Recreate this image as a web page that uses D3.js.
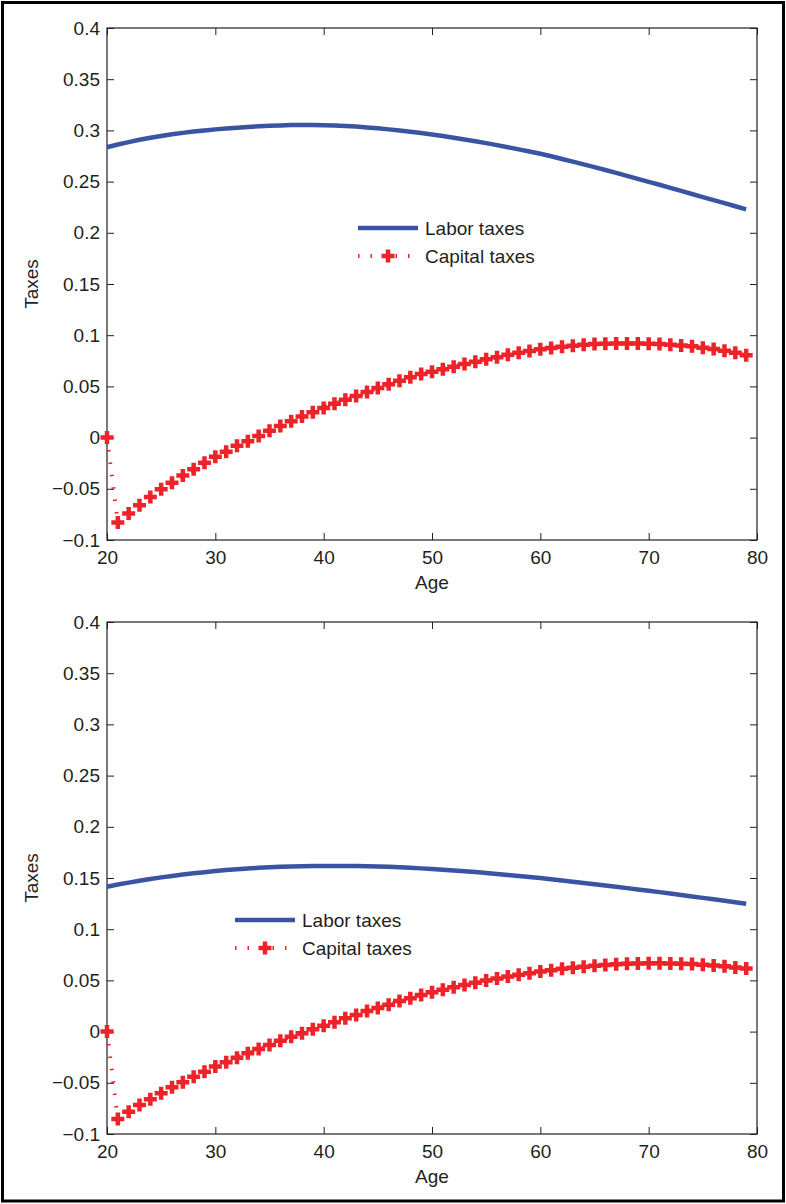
<!DOCTYPE html>
<html>
<head>
<meta charset="utf-8">
<script src="https://cdn.jsdelivr.net/npm/d3@7"></script>
<style>
  body { margin: 0; background: #fff; }
  text { font-family: "Liberation Sans", Arial, Helvetica, sans-serif; fill: #231f20; }
</style>
</head>
<body>
<div id="chart"></div>
<script>
// Ages on the x axis (20 .. 79)
const ages = [20,21,22,23,24,25,26,27,28,29,30,31,32,33,34,35,36,37,38,39,40,41,42,43,44,45,46,47,48,49,
  50,51,52,53,54,55,56,57,58,59,60,61,62,63,64,65,66,67,68,69,70,71,72,73,74,75,76,77,78,79];

// Top panel
const laborTop = [0.2835,0.2862,0.2886,0.2908,0.2928,0.2946,0.2962,0.2976,0.2989,0.3000,
  0.3010,0.3019,0.3027,0.3034,0.3040,0.3045,0.3049,0.3052,0.3053,0.3053,
  0.3051,0.3048,0.3043,0.3037,0.3029,0.3020,0.3010,0.2999,0.2987,0.2974,
  0.2960,0.2945,0.2929,0.2912,0.2894,0.2876,0.2856,0.2836,0.2815,0.2794,
  0.2772,0.2747,0.2721,0.2695,0.2668,0.2641,0.2613,0.2585,0.2556,0.2527,
  0.2498,0.2469,0.2439,0.2409,0.2379,0.2349,0.2319,0.2289,0.2259,0.2229];
const capitalTop = [0,-0.083,-0.074,-0.066,-0.058,-0.0505,-0.044,-0.037,-0.031,-0.0245,
  -0.0186,-0.0137,-0.008,-0.0036,0.0016,0.0067,0.0113,0.0159,0.0205,0.0247,
  0.029,0.033,0.037,0.0406,0.0445,0.0484,0.052,0.0556,0.0589,0.062,
  0.0644,0.0667,0.0693,0.0719,0.0740,0.0764,0.0784,0.0808,0.0829,0.0846,
  0.0862,0.0875,0.0888,0.0898,0.0907,0.0914,0.0917,0.092,0.092,0.092,
  0.0917,0.0914,0.0907,0.0900,0.0891,0.0878,0.0865,0.0849,0.0829,0.0804];

// Bottom panel
const laborBottom = [0.1415,0.1436,0.1455,0.1473,0.1490,0.1506,0.1520,0.1534,0.1546,0.1557,
  0.1568,0.1577,0.1585,0.1592,0.1599,0.1604,0.1609,0.1612,0.1615,0.1617,
  0.1618,0.1618,0.1618,0.1617,0.1615,0.1612,0.1609,0.1605,0.1600,0.1594,
  0.1588,0.1581,0.1574,0.1566,0.1558,0.1549,0.1540,0.1530,0.1520,0.1510,
  0.1499,0.1488,0.1476,0.1464,0.1452,0.1440,0.1427,0.1414,0.1401,0.1388,
  0.1375,0.1362,0.1348,0.1334,0.1320,0.1306,0.1292,0.1278,0.1263,0.1249];
const capitalBottom = [0,-0.0854,-0.0782,-0.0717,-0.0661,-0.0603,-0.0544,-0.0495,-0.044,-0.0391,
  -0.0342,-0.030,-0.0255,-0.0212,-0.017,-0.0131,-0.0089,-0.005,-0.0017,0.0022,
  0.0058,0.0091,0.013,0.0162,0.0201,0.023,0.0263,0.0299,0.0325,0.0357,
  0.0384,0.0408,0.0432,0.0455,0.0477,0.0498,0.0518,0.0537,0.0555,0.0571,
  0.0586,0.0600,0.0613,0.0624,0.0634,0.0643,0.0651,0.0657,0.0662,0.0665,
  0.0667,0.0667,0.0666,0.0663,0.0659,0.0653,0.0646,0.0637,0.0627,0.0615];

const xTicks = [20, 30, 40, 50, 60, 70, 80];
const yTicks = [-0.1, -0.05, 0, 0.05, 0.1, 0.15, 0.2, 0.25, 0.3, 0.35, 0.4];
const seriesNames = ["Labor taxes", "Capital taxes"];

const width = 786, height = 1204;
const blue = "#3a54a4", red = "#ee2229", ink = "#231f20";

const svg = d3.select("#chart").append("svg")
  .attr("width", width)
  .attr("height", height);

// outer frame
svg.append("rect")
  .attr("x", 2.5).attr("y", 2.5)
  .attr("width", 781).attr("height", 1198.5)
  .attr("fill", "none").attr("stroke", "#000").attr("stroke-width", 3);

const plusPath = "M-6.5,0H6.5M0,-6.5V6.5";

function drawPanel(top, labor, capital, legendX, legendY) {
  const x = d3.scaleLinear().domain([20, 80]).range([107, 757]);
  const y = d3.scaleLinear().domain([-0.1, 0.4]).range([top + 512, top]);
  const g = svg.append("g");

  // ticks on all four sides, pointing inward
  const axes = [
    [d3.axisBottom(x).tickValues(xTicks).tickSize(-7).tickPadding(11), `translate(0,${y(-0.1)})`, true],
    [d3.axisTop(x).tickValues(xTicks).tickSize(-7), `translate(0,${y(0.4)})`, false],
    [d3.axisLeft(y).tickValues(yTicks).tickSize(-7).tickPadding(7).tickFormat(d3.format("")), `translate(${x(20)},0)`, true],
    [d3.axisRight(y).tickValues(yTicks).tickSize(-7), `translate(${x(80)},0)`, false]
  ];
  axes.forEach(([axis, tr, labels]) => {
    const a = g.append("g").attr("transform", tr).call(axis);
    a.select(".domain").remove();
    a.selectAll("line").attr("stroke", ink).attr("stroke-width", 1);
    if (labels) {
      a.selectAll("text").style("font-size", "19px").attr("fill", ink);
    } else {
      a.selectAll("text").remove();
    }
  });

  g.append("rect")
    .attr("x", x(20)).attr("y", y(0.4))
    .attr("width", x(80) - x(20)).attr("height", y(-0.1) - y(0.4))
    .attr("fill", "none").attr("stroke", ink).attr("stroke-width", 1.2);

  g.append("text")
    .attr("x", (x(20) + x(80)) / 2).attr("y", y(-0.1) + 49)
    .attr("text-anchor", "middle").style("font-size", "19px")
    .text("Age");

  g.append("text")
    .attr("transform", `translate(38,${(y(0.4) + y(-0.1)) / 2}) rotate(-90)`)
    .attr("text-anchor", "middle").style("font-size", "19px")
    .text("Taxes");

  const line = d3.line().x((d, i) => x(ages[i])).y(d => y(d));

  g.append("path")
    .datum(labor)
    .attr("d", line)
    .attr("fill", "none")
    .attr("stroke", blue)
    .attr("stroke-width", 4.5);

  g.append("path")
    .datum(capital)
    .attr("d", line)
    .attr("fill", "none")
    .attr("stroke", red)
    .attr("stroke-width", 4)
    .attr("stroke-dasharray", "1.5,11");

  g.selectAll(".cap-marker")
    .data(capital)
    .enter().append("path")
    .attr("class", "cap-marker")
    .attr("transform", (d, i) => `translate(${x(ages[i])},${y(d)})`)
    .attr("d", plusPath)
    .attr("stroke", red)
    .attr("stroke-width", 4.5);

  // legend
  const leg = g.append("g").attr("transform", `translate(${legendX},${legendY})`);
  leg.append("line")
    .attr("x1", 0).attr("x2", 60).attr("y1", 0).attr("y2", 0)
    .attr("stroke", blue).attr("stroke-width", 4.5);
  leg.append("line")
    .attr("x1", 0).attr("x2", 60).attr("y1", 28).attr("y2", 28)
    .attr("stroke", red).attr("stroke-width", 4)
    .attr("stroke-dasharray", "1.5,11");
  leg.append("path")
    .attr("transform", "translate(30,28)")
    .attr("d", plusPath)
    .attr("stroke", red).attr("stroke-width", 4.5);
  leg.selectAll(".legend-text")
    .data(seriesNames)
    .enter().append("text")
    .attr("class", "legend-text")
    .attr("x", 67)
    .attr("y", (d, i) => i * 28 + 7)
    .style("font-size", "19px")
    .text(d => d);
}

drawPanel(28, laborTop, capitalTop, 358, 228);
drawPanel(622, laborBottom, capitalBottom, 235, 920);
</script>
</body>
</html>
